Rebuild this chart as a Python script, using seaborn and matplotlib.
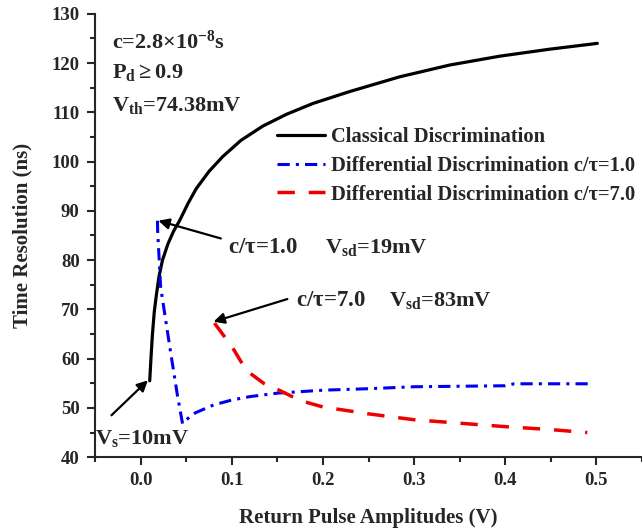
import matplotlib
matplotlib.use("Agg")
import matplotlib.pyplot as plt
import seaborn as sns
import pandas as pd

# ---- data ----
classical_x = [0.010, 0.0115, 0.013, 0.015, 0.017, 0.020, 0.024, 0.030, 0.036, 0.043,
               0.052, 0.061, 0.075, 0.090, 0.110, 0.134, 0.160, 0.189, 0.229, 0.284,
               0.339, 0.394, 0.448, 0.501]
classical_y = [55.5, 60.5, 65.0, 69.5, 72.5, 76.5, 80.0, 83.3, 85.8, 88.1,
               91.5, 94.5, 98.0, 101.0, 104.3, 107.2, 109.6, 111.8, 114.2, 117.2,
               119.6, 121.4, 122.8, 124.0]

diff1_x = [0.0185, 0.0187, 0.022, 0.032, 0.040, 0.046, 0.050, 0.060, 0.080, 0.100,
           0.120, 0.150, 0.200, 0.250, 0.300, 0.350, 0.400, 0.410, 0.450, 0.496]
diff1_y = [88.0, 86.0, 74.5, 62.4, 53.0, 46.8, 47.6, 49.0, 50.6, 51.6,
           52.3, 53.0, 53.6, 53.9, 54.3, 54.4, 54.5, 54.9, 54.9, 54.9]

diff7_x = [0.081, 0.100, 0.116, 0.135, 0.152, 0.175, 0.200, 0.250, 0.300, 0.350,
           0.400, 0.450, 0.490]
diff7_y = [67.2, 62.5, 57.6, 55.0, 53.6, 51.5, 50.2, 48.8, 47.6, 46.9,
           46.2, 45.6, 45.0]

labels = ["Classical Discrimination",
          "Differential Discrimination c/\u03c4=1.0",
          "Differential Discrimination c/\u03c4=7.0"]
x_ticks = [0.0, 0.1, 0.2, 0.3, 0.4, 0.5]
y_ticks = [40, 50, 60, 70, 80, 90, 100, 110, 120, 130]

# ---- style ----
sns.set_style("ticks")
plt.rcParams['font.family'] = ['Liberation Serif', 'DejaVu Serif']
plt.rcParams['font.weight'] = 'bold'
plt.rcParams['axes.labelweight'] = 'bold'
plt.rcParams['mathtext.fontset'] = 'custom'
plt.rcParams['mathtext.rm'] = 'Liberation Serif:bold'
plt.rcParams['mathtext.it'] = 'Liberation Serif:bold'
plt.rcParams['mathtext.bf'] = 'Liberation Serif:bold'

fig = plt.figure(figsize=(6.42, 5.31), dpi=100)
ax = fig.add_axes([0.148, 0.139, 0.852, 0.835])

df_c = pd.DataFrame({"x": classical_x, "y": classical_y})
df_1 = pd.DataFrame({"x": diff1_x, "y": diff1_y})
df_7 = pd.DataFrame({"x": diff7_x, "y": diff7_y})

sns.lineplot(data=df_c, x="x", y="y", ax=ax, color="black", lw=2.3,
             sort=False, label=labels[0])
sns.lineplot(data=df_1, x="x", y="y", ax=ax, color="#0000ee", lw=2.2,
             sort=False, label=labels[1], linestyle=(0, (4, 2, 1, 2)))
sns.lineplot(data=df_7, x="x", y="y", ax=ax, color="#ee0000", lw=2.5,
             sort=False, label=labels[2], linestyle=(0, (5, 4)))

ax.set_xlim(-0.05, 0.55)
ax.set_ylim(40, 130)
ax.set_xticks(x_ticks)
ax.set_xticklabels([f"{v:.1f}" for v in x_ticks])
ax.set_yticks(y_ticks)
ax.set_xticks([-0.05, 0.05, 0.15, 0.25, 0.35, 0.45, 0.55], minor=True)
ax.set_yticks([45, 55, 65, 75, 85, 95, 105, 115, 125], minor=True)
ax.tick_params(axis='both', which='major', direction='out', length=6, width=1.5,
               labelsize=13.5, pad=5)
ax.tick_params(axis='both', which='minor', direction='out', length=3.5, width=1.5)
for lab in ax.get_xticklabels() + ax.get_yticklabels():
    lab.set_fontweight('bold')
for s in ['top', 'right']:
    ax.spines[s].set_visible(False)
for s in ['left', 'bottom']:
    ax.spines[s].set_linewidth(1.5)

ax.set_xlabel("Return Pulse Amplitudes (V)", fontsize=15, fontweight='bold', labelpad=13)
ax.set_ylabel("Time Resolution (ns)", fontsize=15, fontweight='bold', labelpad=14)

leg = ax.legend(loc='center left', bbox_to_anchor=(0.333, 0.657), frameon=False,
                fontsize=14.8, handlelength=2.35, handletextpad=0.25,
                labelspacing=0.42, borderaxespad=0, borderpad=0)
for t in leg.get_texts():
    t.set_fontweight('bold')

# top-left parameter text
ax.text(-0.031, 124.3, r"c=2.8$\times$10$^{-8}$s", fontsize=16, fontweight='bold',
        va='center', ha='left')
ax.text(-0.031, 118.0, r"P$_{\mathrm{d}}$$\geq$0.9", fontsize=16, fontweight='bold',
        va='center', ha='left')
ax.text(-0.031, 111.4, r"V$_{\mathrm{th}}$=74.38mV", fontsize=16, fontweight='bold',
        va='center', ha='left')

arrow = dict(arrowstyle='-|>', color='black', lw=1.6, mutation_scale=16,
             shrinkA=0, shrinkB=0)
ax.annotate("", xy=(0.0195, 88.0), xytext=(0.088, 84.4), arrowprops=arrow)
ax.text(0.0954, 82.6, r"c/$\tau$=1.0", fontsize=16.5, fontweight='bold',
        va='center', ha='left')
ax.text(0.202, 82.6, r"V$_{\mathrm{sd}}$=19mV", fontsize=16, fontweight='bold',
        va='center', ha='left')

ax.annotate("", xy=(0.080, 67.5), xytext=(0.161, 72.1), arrowprops=arrow)
ax.text(0.170, 71.9, r"c/$\tau$=7.0", fontsize=16.5, fontweight='bold',
        va='center', ha='left')
ax.text(0.273, 71.9, r"V$_{\mathrm{sd}}$=83mV", fontsize=16, fontweight='bold',
        va='center', ha='left')

ax.annotate("", xy=(0.008, 55.6), xytext=(-0.032, 48.5), arrowprops=arrow)
ax.text(-0.05, 43.8, r"V$_{\mathrm{s}}$=10mV", fontsize=16, fontweight='bold',
        va='center', ha='left')

fig.savefig("out.png", dpi=100)
